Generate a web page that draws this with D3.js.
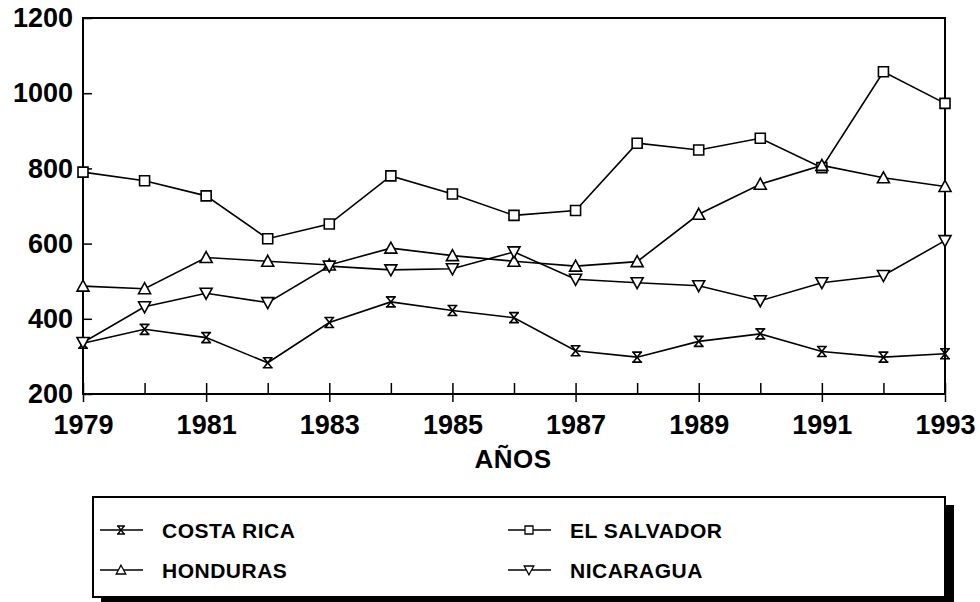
<!DOCTYPE html>
<html><head><meta charset="utf-8">
<script src="https://cdn.jsdelivr.net/npm/d3@7"></script>
<style>body{margin:0;background:#fff;} svg{display:block;}</style>
</head><body>
<script>
const years = [1979,1980,1981,1982,1983,1984,1985,1986,1987,1988,1989,1990,1991,1992,1993];
const costaRica  = [335,372,350,283,390,445,422,403,315,298,340,360,313,298,307];
const elSalvador = [790,767,727,613,652,780,732,675,688,867,849,880,802,1057,973];
const honduras   = [487,480,563,553,543,588,568,553,540,552,678,758,808,775,752];
const nicaragua  = [337,432,468,443,540,530,533,578,505,496,488,448,496,515,608];
const yTicks = [200,400,600,800,1000,1200];
const xLabelYears = [1979,1981,1983,1985,1987,1989,1991,1993];
const seriesNames = ["COSTA RICA","EL SALVADOR","HONDURAS","NICARAGUA"];

(function(){
const W=980,H=602;
const svg=d3.select("body").append("svg").attr("width",W).attr("height",H);
const pL=83,pR=945,pT=18,pB=394;
const x=d3.scaleLinear().domain([1979,1993]).range([pL,pR]);
const y=d3.scaleLinear().domain([200,1200]).range([pB,pT]);
const font="'Liberation Sans', Arial, Helvetica, sans-serif";

// frame
svg.append("rect").attr("x",pL).attr("y",pT).attr("width",pR-pL).attr("height",pB-pT)
  .attr("fill","none").attr("stroke","#000").attr("stroke-width",2);

// y axis
const yAxis=d3.axisLeft(y).tickValues(yTicks).tickSize(-9).tickPadding(10).tickFormat(d3.format("d"));
const gy=svg.append("g").attr("transform",`translate(${pL},0)`).call(yAxis);
gy.select(".domain").remove();
gy.selectAll("line").attr("stroke","#000").attr("stroke-width",1.5);
gy.selectAll("text").attr("font-family",font).attr("font-weight","bold").attr("font-size",27)
  .attr("fill","#000");

// x axis minor (inside) ticks every year
const xAxis=d3.axisBottom(x).tickValues(years).tickSize(-11).tickFormat("");
const gx=svg.append("g").attr("transform",`translate(0,${pB})`).call(xAxis);
gx.select(".domain").remove();
gx.selectAll("line").attr("stroke","#000").attr("stroke-width",1.5);
// labeled ticks crossing the axis
const xAxis2=d3.axisBottom(x).tickValues(xLabelYears).tickSize(8).tickPadding(13).tickFormat(d3.format("d"));
const gx2=svg.append("g").attr("transform",`translate(0,${pB})`).call(xAxis2);
gx2.select(".domain").remove();
gx2.selectAll("line").attr("stroke","#000").attr("stroke-width",1.5);
gx2.selectAll("text").attr("font-family",font).attr("font-weight","bold").attr("font-size",27)
  .attr("fill","#000");

svg.append("text").attr("x",513).attr("y",468).attr("text-anchor","middle")
  .attr("font-family",font).attr("font-weight","bold").attr("font-size",26).attr("letter-spacing","0.5px").text("AÑOS");

// markers
const markers={
  "COSTA RICA": "M-5,-5H5M-5,5H5M-4,-5L4,5M4,-5L-4,5",
  "EL SALVADOR": "M-5,-5H5V5H-5Z",
  "HONDURAS": "M0,-6L6,5H-6Z",
  "NICARAGUA": "M0,6L6,-5H-6Z"
};
const data=[costaRica,elSalvador,honduras,nicaragua];
const line=d3.line().x((d,i)=>x(years[i])).y(d=>y(d));
data.forEach((vals,k)=>{
  const name=seriesNames[k];
  svg.append("path").attr("d",line(vals)).attr("fill","none").attr("stroke","#000").attr("stroke-width",1.6);
  svg.append("g").selectAll("path").data(vals).join("path")
    .attr("transform",(d,i)=>`translate(${x(years[i])},${y(d)})`)
    .attr("d",markers[name]).attr("fill",name==="COSTA RICA"?"none":"#fff")
    .attr("stroke","#000").attr("stroke-width",1.6);
});

// legend
const lg=svg.append("g");
lg.append("rect").attr("x",101).attr("y",505).attr("width",853).attr("height",110).attr("fill","#000");
lg.append("rect").attr("x",93).attr("y",497).attr("width",852).attr("height",100).attr("fill","#fff")
  .attr("stroke","#000").attr("stroke-width",2);
const lpos=[[100,538],[508,538],[100,578],[508,578]];
seriesNames.forEach((name,k)=>{
  const [lx,ly]=lpos[k];
  lg.append("line").attr("x1",lx).attr("x2",lx+43).attr("y1",ly-8).attr("y2",ly-8).attr("stroke","#000").attr("stroke-width",1.5);
  lg.append("path").attr("transform",`translate(${lx+21},${ly-8}) scale(0.8)`).attr("d",markers[name])
    .attr("fill",name==="COSTA RICA"?"none":"#fff").attr("stroke","#000").attr("stroke-width",1.6);
  lg.append("text").attr("x",lx+62).attr("y",ly).attr("font-family",font).attr("font-weight","bold")
    .attr("font-size",21).attr("letter-spacing","0.5px").text(name);
});
})();
</script>
</body></html>
